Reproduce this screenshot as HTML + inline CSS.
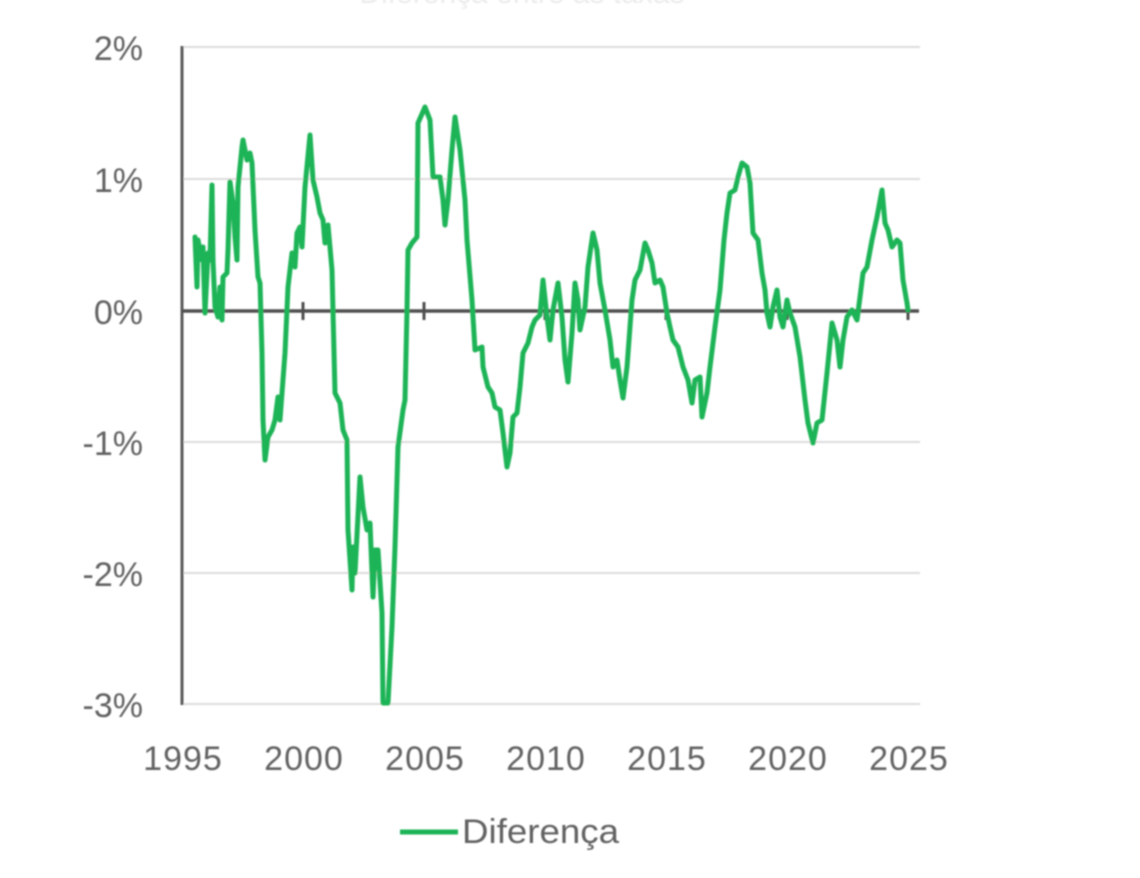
<!DOCTYPE html>
<html>
<head>
<meta charset="utf-8">
<style>
html,body{margin:0;padding:0;background:#fff;}
svg{display:block;}
text{font-family:"Liberation Sans",sans-serif;fill:#626262;}
</style>
</head>
<body>
<svg width="1140" height="878" viewBox="0 0 1140 878" xmlns="http://www.w3.org/2000/svg">
<defs>
<filter id="b" x="-5%" y="-5%" width="110%" height="110%"><feGaussianBlur stdDeviation="0.7"/></filter>
</defs>
<rect width="1140" height="878" fill="#fff"/>
<g filter="url(#b)">
<text x="522" y="3" font-size="30" text-anchor="middle" style="fill:#ececec">Diferença entre as taxas</text>
<!-- gridlines -->
<g stroke="#dcdcdc" stroke-width="2">
<line x1="182" y1="47" x2="920" y2="47"/>
<line x1="182" y1="179" x2="920" y2="179"/>
<line x1="182" y1="442" x2="920" y2="442"/>
<line x1="182" y1="573" x2="920" y2="573"/>
<line x1="182" y1="704" x2="920" y2="704"/>
</g>
<!-- left axis -->
<line x1="182" y1="46" x2="182" y2="705" stroke="#5a5a5a" stroke-width="3"/>
<!-- zero axis -->
<line x1="182" y1="311" x2="919" y2="311" stroke="#4f4f4f" stroke-width="3.5"/>
<g stroke="#4f4f4f" stroke-width="3">
<line x1="303" y1="302" x2="303" y2="320"/>
<line x1="424" y1="302" x2="424" y2="320"/>
<line x1="545" y1="302" x2="545" y2="320"/>
<line x1="666" y1="302" x2="666" y2="320"/>
<line x1="787" y1="302" x2="787" y2="320"/>
<line x1="908" y1="302" x2="908" y2="320"/>
</g>
<!-- y labels -->
<g font-size="34" text-anchor="end">
<text x="143" y="60">2%</text>
<text x="143" y="192">1%</text>
<text x="143" y="324">0%</text>
<text x="143" y="455">-1%</text>
<text x="143" y="586">-2%</text>
<text x="143" y="717">-3%</text>
</g>
<!-- x labels -->
<g font-size="34" text-anchor="middle" letter-spacing="1">
<text x="183" y="770">1995</text>
<text x="304" y="770">2000</text>
<text x="425" y="770">2005</text>
<text x="546" y="770">2010</text>
<text x="667" y="770">2015</text>
<text x="788" y="770">2020</text>
<text x="909" y="770">2025</text>
</g>
<!-- series -->
<polyline fill="none" stroke="#1fb456" stroke-width="5" stroke-linejoin="round" stroke-linecap="round" points="
195,237 197,287 198,240 202,260 203,247 205,313 208,253 210,260 212,185 213,260 215,307 218,317 220,287 222,320 223,277 227,273 228,250 230,182 233,203 235,237 237,260 238,187 242,147 243,140 247,160 250,153 252,163 255,230 258,277 260,283 262,353 263,420 265,460 268,437 272,430 275,420 278,397 280,420 282,393 285,353 288,287 292,253 295,267 297,233 300,227 302,247 305,187 310,135 313,180 317,197 320,213 323,220 325,243 328,225 332,270 335,393 340,403
343,430 347,440 348,530 352,590 353,547 355,573 360,477 363,507 367,530 370,523 373,597 375,550 378,550 382,613 383,703 388,703 392,627 395,547 398,447 403,410 405,400 407,310 408,250 412,243 417,237 418,123 425,107 430,120 433,177 440,177 443,200 445,225 448,200 452,150 455,117 460,150 465,200 467,240 472,300 475,350 482,347 483,367 488,387 492,393 495,407 500,410 503,433 507,467 510,453 513,417 517,413 520,387 523,353 528,343 532,327 535,320 540,315 543,280 547,317 550,340 553,310 558,283 562,317 565,360 568,382 572,333 575,283 578,300 580,330 585,307 588,267 593,233 597,250 600,283 605,310 610,340 613,367 617,360 620,380 623,398 627,367 632,300 635,280 640,270 645,243 648,250 652,263 655,283 660,280 663,287 667,313 670,327 673,340 678,347 683,367 688,380 692,403 695,380 700,377 702,417 707,393 710,367 715,327 720,290
724,240 727,213 730,193 735,190 738,177 742,163 747,167 750,183 753,233 758,240 762,273 765,290 767,313 770,327 773,307 777,290 780,317 783,327 787,300 790,313 795,327 800,357 805,400 808,423 813,443 817,423 822,420 827,373 832,323 837,340 840,367 843,340 847,317 852,310 857,320 860,297 863,273 867,267 872,240 877,217 882,190 885,223 888,230 892,247 897,240 900,243 903,280 907,303 908,310"/>
<!-- legend -->
<line x1="400" y1="832" x2="458" y2="832" stroke="#1fb456" stroke-width="5"/>
<text x="462" y="843" font-size="34" textLength="157" lengthAdjust="spacingAndGlyphs">Diferença</text>
</g>
</svg>
</body>
</html>
